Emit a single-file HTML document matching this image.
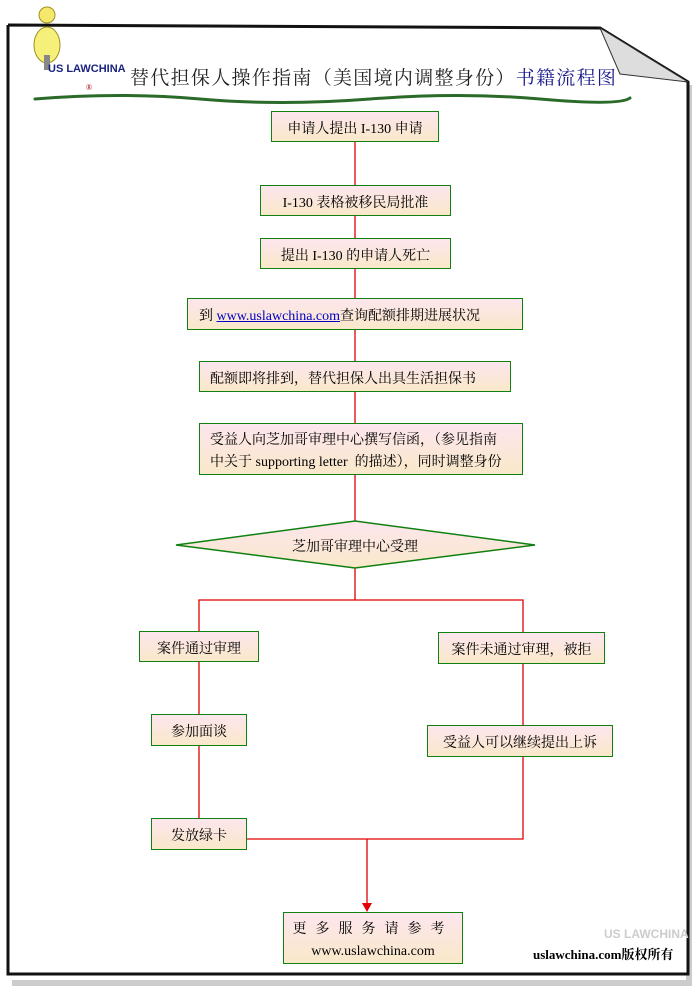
<!DOCTYPE html>
<html><head><meta charset="utf-8"><style>
body{margin:0;width:700px;height:990px;background:#fff;position:relative;overflow:hidden;font-family:"Liberation Serif","Noto Serif CJK SC","Noto Sans CJK SC",serif;}
.b{position:absolute;box-sizing:border-box;border:1.5px solid #108010;background:linear-gradient(#fde6ee,#f9e8c9);font-size:14px;color:#000;display:flex;align-items:center;justify-content:center;text-align:center;line-height:22px;padding-top:6px;}
svg{position:absolute;left:0;top:0}
</style></head><body>
<svg width="700" height="990">
<rect x="12" y="980" width="680" height="6" fill="#ccc"/>
<rect x="686" y="85" width="6" height="900" fill="#ccc"/>
<polyline points="8,25 600,28 688,82 688,974 8,974 8,25" fill="#fff" stroke="#111" stroke-width="3"/>
<polygon points="600,28 688,82 620,74" fill="#ddd" stroke="#333" stroke-width="1"/>
<g stroke="#2a6b2a" stroke-width="3" stroke-linecap="round">
<path d="M35 99 Q120 92 200 99 T370 99 T540 99 T630 98" fill="none"/>
</g>
<circle cx="47" cy="15" r="8" fill="#f5e86a" stroke="#a09020"/>
<ellipse cx="47" cy="45" rx="13" ry="18" fill="#f5f07a" stroke="#a09020"/>
<rect x="44" y="55" width="6" height="15" fill="#888"/>
<text x="48" y="72" font-size="11" font-family="Liberation Sans" fill="#1a237e" font-weight="bold">US LAWCHINA</text>
<text x="86" y="90" font-size="8" fill="#a00">®</text>
<g stroke="#e00000" stroke-width="1.3" fill="none">
<line x1="355" y1="142" x2="355" y2="521"/>
<line x1="355" y1="568" x2="355" y2="600"/>
<polyline points="199,631 199,600 523,600 523,632"/>
<line x1="199" y1="662" x2="199" y2="714"/>
<line x1="199" y1="746" x2="199" y2="818"/>
<line x1="523" y1="664" x2="523" y2="725"/>
<polyline points="247,839 523,839 523,757"/>
<line x1="367" y1="839" x2="367" y2="905"/>
</g>
<polygon points="362,903 372,903 367,912" fill="#e00000"/>
<defs><linearGradient id="g" x1="0" y1="0" x2="0" y2="1"><stop offset="0" stop-color="#fde6ee"/><stop offset="1" stop-color="#f9e8c9"/></linearGradient></defs>
<polygon points="176,545 355,521 535,545 355,568" fill="url(#g)" stroke="#108010" stroke-width="1.5"/>
<text x="355" y="551" font-size="14" text-anchor="middle" font-family="Liberation Serif,Noto Serif CJK SC,serif">芝加哥审理中心受理</text>
<text x="130" y="84" font-size="19" letter-spacing="1.3" font-family="Liberation Serif,Noto Serif CJK SC,serif" fill="#222">替代担保人操作指南（美国境内调整身份）<tspan fill="#1a1a8c">书籍流程图</tspan></text>
<text x="604" y="938" font-size="12" font-family="Liberation Sans" fill="#ccc" font-weight="bold">US LAWCHINA</text>
<text x="533" y="959" font-size="13" font-weight="bold" font-family="Liberation Serif,Noto Serif CJK SC,serif">uslawchina.com版权所有</text>
</svg>
<div class="b" style="left:271px;top:111px;width:168px;height:31px">申请人提出 I-130 申请</div>
<div class="b" style="left:260px;top:185px;width:191px;height:31px">I-130 表格被移民局批准</div>
<div class="b" style="left:260px;top:238px;width:191px;height:31px">提出 I-130 的申请人死亡</div>
<div class="b" style="left:187px;top:298px;width:336px;height:32px;justify-content:flex-start;padding-left:11px">到&nbsp;<span style="color:#00c;text-decoration:underline">www.uslawchina.com </span>查询配额排期进展状况</div>
<div class="b" style="left:199px;top:361px;width:312px;height:31px;justify-content:flex-start;padding-left:10px">配额即将排到，替代担保人出具生活担保书</div>
<div class="b" style="left:199px;top:423px;width:324px;height:52px;text-align:left;justify-content:flex-start;padding-left:10px">受益人向芝加哥审理中心撰写信函，（参见指南<br>中关于 supporting letter&nbsp; 的描述），同时调整身份</div>
<div class="b" style="left:139px;top:631px;width:120px;height:31px">案件通过审理</div>
<div class="b" style="left:151px;top:714px;width:96px;height:32px">参加面谈</div>
<div class="b" style="left:151px;top:818px;width:96px;height:32px">发放绿卡</div>
<div class="b" style="left:438px;top:632px;width:167px;height:32px">案件未通过审理，被拒</div>
<div class="b" style="left:427px;top:725px;width:186px;height:32px">受益人可以继续提出上诉</div>
<div class="b" style="left:283px;top:912px;width:180px;height:52px;flex-direction:column">
<div style="letter-spacing:9px">更多服务请参考</div><div>www.uslawchina.com</div></div>
</body></html>
